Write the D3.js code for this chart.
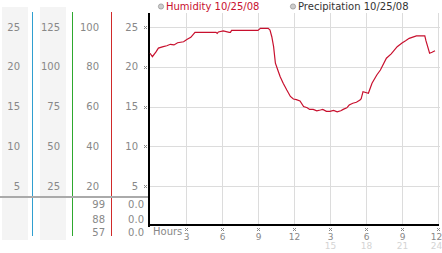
<!DOCTYPE html>
<html>
<head>
<meta charset="utf-8">
<script src="https://cdn.jsdelivr.net/npm/d3@7"></script>
<style>
  body { margin: 0; background: #fff; }
  svg text { font-family: "DejaVu Sans", Verdana, sans-serif; }
</style>
</head>
<body>
<div id="chart"></div>
<script>
// values
var hours = [0, 0.2, 0.5, 0.7, 1.1, 1.4, 1.7, 2.0, 2.3, 2.8, 3.1, 3.4, 3.75, 4.5, 5.5, 5.6, 5.7, 6.1, 6.6, 6.7,
  6.8, 7.5, 8.5, 9.0, 9.2, 9.85, 10.0, 10.15, 10.3, 10.45, 10.7, 10.85, 11.1, 11.4, 11.7, 11.95, 12.2, 12.5, 12.8, 13.1,
  13.3, 13.6, 13.9, 14.2, 14.4, 14.7, 15.0, 15.3, 15.6, 15.9, 16.1, 16.4, 16.6, 16.9, 17.2, 17.5, 17.6, 17.75, 18.2, 18.5,
  18.9, 19.2, 19.7, 20.1, 20.6, 21.0, 21.3, 21.6, 22.2, 22.9, 23.0, 23.3, 23.5, 23.75]
var humidity = [86.8, 85.1, 87.5, 89.4, 90.1, 90.6, 91.3, 91.0, 92.1, 92.6, 93.8, 94.8, 97.3, 97.3, 97.3, 96.8, 97.5, 98.0, 97.3, 97.3,
  98.3, 98.3, 98.3, 98.3, 99.3, 99.3, 98.5, 95.1, 90.1, 81.8, 77.5, 75.0, 71.7, 68.3, 65.1, 63.8, 63.5, 62.8, 60.0, 59.4,
  58.6, 58.6, 57.9, 58.3, 58.6, 57.6, 57.6, 58.1, 57.4, 57.9, 58.6, 59.4, 60.8, 61.7, 62.2, 63.3, 64.0, 67.5, 66.7, 71.7,
  75.9, 78.4, 84.3, 86.5, 90.1, 92.0, 93.1, 94.3, 95.5, 95.5, 93.0, 86.8, 87.3, 88.1]

var col1Ticks = [5, 10, 15, 20, 25]
var col2Ticks = [25, 50, 75, 100, 125]
var col3Ticks = [20, 40, 60, 80, 100]
var col4Ticks = [5, 10, 15, 20, 25]
var humidityStats = [99, 88, 57]
var precipStats = ["0.0", "0.0", "0.0"]
var hourTicks = [3, 6, 9, 12, 15, 18, 21, 24]
var hourLabels = ["3", "6", "9", "12", "3", "6", "9", "12"]
var hourLabels2 = ["", "", "", "", "15", "18", "21", "24"]
var legendItems = ["Humidity 10/25/08", "Precipitation 10/25/08"]

var width = 442, height = 253

var svg = d3.select("#chart").append("svg")
  .attr("width", width)
  .attr("height", height)
  .attr("shape-rendering", "crispEdges")

var x = d3.scaleLinear().domain([0, 24]).range([150, 438])
var y = d3.scaleLinear().domain([0, 25]).range([226, 27])
var yHum = d3.scaleLinear().domain([0, 100]).range([226, 27])
var y125 = d3.scaleLinear().domain([0, 125]).range([226, 27])

// left panel backgrounds
svg.append("rect").attr("x", 2).attr("y", 7).attr("width", 26).attr("height", 233).attr("fill", "#f4f4f4")
svg.append("rect").attr("x", 40).attr("y", 7).attr("width", 26).attr("height", 233).attr("fill", "#f4f4f4")

// gridlines
svg.append("g").selectAll("line")
  .data(col4Ticks)
  .enter().append("line")
  .attr("x1", 150).attr("x2", 440)
  .attr("y1", function(d) { return Math.round(y(d)) + 0.5 })
  .attr("y2", function(d) { return Math.round(y(d)) + 0.5 })
  .attr("stroke", "#dcdcdc")

svg.append("g").selectAll("line")
  .data(hourTicks)
  .enter().append("line")
  .attr("x1", function(d) { return Math.round(x(d)) + 0.5 })
  .attr("x2", function(d) { return Math.round(x(d)) + 0.5 })
  .attr("y1", 13).attr("y2", 225)
  .attr("stroke", "#dcdcdc")

// coloured separators
var seps = [[32, "#2f9fd0"], [72, "#2ea82e"], [111, "#d02a2a"]]
seps.forEach(function(s) {
  svg.append("line")
    .attr("x1", s[0] + 0.5).attr("x2", s[0] + 0.5)
    .attr("y1", 12).attr("y2", 236)
    .attr("stroke", s[1]).attr("stroke-width", 1)
})

// gray divider
svg.append("line")
  .attr("x1", 0).attr("x2", 149)
  .attr("y1", 197).attr("y2", 197)
  .attr("stroke", "#aaa").attr("stroke-width", 2)

function colLabels(ticks, scale, xr) {
  svg.append("g").selectAll("text")
    .data(ticks)
    .enter().append("text")
    .attr("x", xr)
    .attr("y", function(d) { return scale(d) + 3.5 })
    .attr("text-anchor", "end")
    .attr("font-size", "10px")
    .attr("fill", "#888")
    .text(function(d) { return d })
}
colLabels(col1Ticks, y, 20)
colLabels(col2Ticks, y125, 60)
colLabels(col3Ticks, yHum, 99)
colLabels(col4Ticks, y, 138)

var statY = [204.5, 219, 232]
svg.append("g").selectAll("text")
  .data(humidityStats)
  .enter().append("text")
  .attr("x", 105).attr("y", function(d, i) { return statY[i] + 3.5 })
  .attr("text-anchor", "end").attr("font-size", "10px").attr("fill", "#888")
  .text(function(d) { return d })
svg.append("g").selectAll("text")
  .data(precipStats)
  .enter().append("text")
  .attr("x", 144).attr("y", function(d, i) { return statY[i] + 3.5 })
  .attr("text-anchor", "end").attr("font-size", "10px").attr("fill", "#888")
  .text(function(d) { return d })

// tiny dotted tick marks
var dots = [[0, 0], [2, 0], [1, 1], [0, 2], [2, 2]]
function tickMark(g, cx, cy) {
  g.selectAll(null).data(dots).enter().append("rect")
    .attr("x", function(d) { return Math.round(cx) - 1 + d[0] })
    .attr("y", function(d) { return Math.round(cy) - 1 + d[1] })
    .attr("width", 1).attr("height", 1)
    .attr("fill", "#888")
}
var leftMarks = svg.append("g")
col4Ticks.forEach(function(d) { tickMark(leftMarks, 145, y(d)) })
var bottomMarks = svg.append("g")
hourTicks.forEach(function(d) { tickMark(bottomMarks, x(d), 229) })

// axes
svg.append("line").attr("x1", 149).attr("x2", 149).attr("y1", 13).attr("y2", 227)
  .attr("stroke", "#000").attr("stroke-width", 2)
svg.append("line").attr("x1", 148).attr("x2", 439).attr("y1", 225).attr("y2", 225)
  .attr("stroke", "#000").attr("stroke-width", 2)

// bottom labels (keep the last one inside the frame)
function labelX(d) { return Math.min(x(d) + 0.5, width - 5.5) }
svg.append("g").selectAll("text")
  .data(hourTicks)
  .enter().append("text")
  .attr("x", labelX).attr("y", 239.5)
  .attr("text-anchor", "middle").attr("font-size", "9px").attr("fill", "#888")
  .text(function(d, i) { return hourLabels[i] })
svg.append("g").selectAll("text")
  .data(hourTicks)
  .enter().append("text")
  .attr("x", labelX).attr("y", 249)
  .attr("text-anchor", "middle").attr("font-size", "9px").attr("fill", "#d4d4d4")
  .text(function(d, i) { return hourLabels2[i] })
svg.append("text").attr("x", 153).attr("y", 235)
  .attr("font-size", "10px").attr("fill", "#888").text("Hours")

// humidity line
var line = d3.line()
  .x(function(d, i) { return x(hours[i]) })
  .y(function(d) { return yHum(d) })
svg.append("path")
  .datum(humidity)
  .attr("d", line)
  .attr("fill", "none")
  .attr("stroke", "#c8102e")
  .attr("stroke-width", 1.2)
  .attr("shape-rendering", "auto")

// legend
var legendX = [161, 293]
var legendColor = ["#c8102e", "#333"]
legendItems.forEach(function(t, i) {
  svg.append("circle").attr("cx", legendX[i]).attr("cy", 6.5).attr("r", 2.6)
    .attr("fill", "#ccc").attr("stroke", "#999").attr("stroke-width", 0.8)
    .attr("shape-rendering", "auto")
  svg.append("text").attr("x", legendX[i] + 5).attr("y", 10)
    .attr("font-size", "10px").attr("fill", legendColor[i]).text(t)
})
</script>
</body>
</html>
